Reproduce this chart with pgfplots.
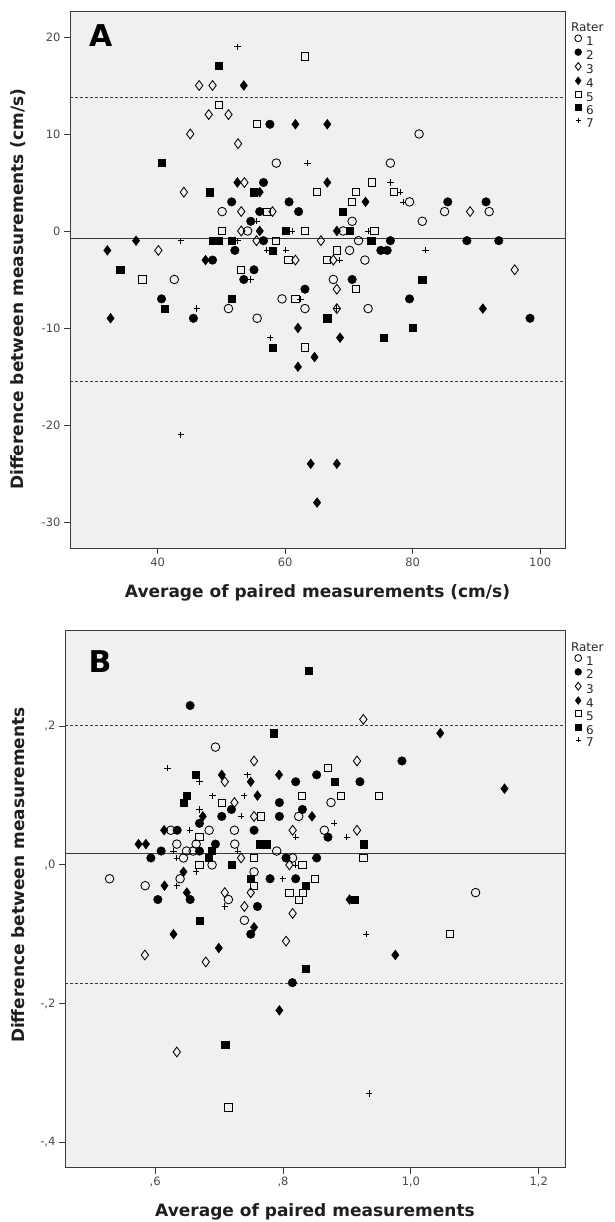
\documentclass[border=0pt]{standalone}
\usepackage{pgfplots}
\pgfplotsset{compat=1.18}
\usepackage{fontspec}
\setmainfont{DejaVu Sans}
\definecolor{bg}{HTML}{F0F0F0}
\definecolor{frame}{HTML}{3A3A3A}
\definecolor{ticklab}{HTML}{4A4A4A}
\pgfplotsset{
  panel/.style={
    scale only axis,
    axis background/.style={fill=bg},
    axis line style={frame, line width=0.9pt},
    xtick pos=bottom, ytick pos=left, tick align=outside,
    major tick length=6pt,
    every tick/.style={frame, line width=0.9pt},
    ticklabel style={font=\fontsize{11.5}{12}\selectfont, text=ticklab},
    label style={font=\bfseries\fontsize{17}{18}\selectfont, text=black!88},
    legend style={at={(1,1)}, anchor=north west, xshift=3pt, yshift=-9pt,
      draw=none, fill=none, font=\fontsize{12}{12}\selectfont, text=black!85,
      row sep=1.1pt, nodes={inner sep=0.8pt, text height=8.5pt, text depth=1.5pt}},
    legend cell align=left,
    legend image code/.code={\path[draw=none, fill=none] (0pt,0pt) -- (14pt,0pt);
      \draw[#1, every mark/.append style={scale=0.8}] plot coordinates {(7pt,3.5pt)};},
  },
  r1/.style={only marks, black, mark=o, mark size=4.3pt, mark options={line width=0.85pt}},
  r2/.style={only marks, black, mark=*, mark size=4.3pt, mark options={fill=black}},
  r3/.style={only marks, black, mark=diamond, mark size=4.9pt, mark options={line width=0.85pt}},
  r4/.style={only marks, black, mark=diamond*, mark size=4.9pt, mark options={fill=black}},
  r5/.style={only marks, black, mark=square, mark size=3.6pt, mark options={line width=0.85pt}},
  r6/.style={only marks, black, mark=square*, mark size=3.6pt, mark options={fill=black}},
  r7/.style={only marks, black, mark=+, mark size=3.1pt, mark options={line width=0.75pt}},
  meanline/.style={forget plot, frame, line width=0.9pt, mark=none},
  limline/.style={forget plot, frame, line width=0.8pt, mark=none, dash pattern=on 3pt off 2pt},
}
\begin{document}
\begin{tikzpicture}
\useasboundingbox (0,0) rectangle (614pt,1222pt);
% ---------------- Panel A ----------------
\begin{axis}[panel,
  at={(70pt,674pt)}, anchor=south west,
  width=495pt, height=537pt,
  xmin=26.24, xmax=103.89, ymin=-32.68, ymax=22.68,
  xtick={40,60,80,100}, xticklabels={40,60,80,100},
  ytick={-30,-20,-10,0,10,20}, yticklabels={-30,-20,-10,0,10,20},
  xlabel={Average of paired measurements (cm/s)},
  ylabel={Difference between measurements (cm/s)},
  xlabel style={at={(axis description cs:0.5,0)}, anchor=center, yshift=-45pt},
  ylabel style={at={(axis description cs:-0.105,0.482)}, anchor=center},
]
\addplot[meanline] coordinates {(26.24,-0.82) (103.89,-0.82)};
\addplot[limline] coordinates {(26.24,13.8) (103.89,13.8)};
\addplot[limline] coordinates {(26.24,-15.5) (103.89,-15.5)};
\addlegendimage{empty legend}\addlegendentry{\hspace{-15pt}Rater}
\addplot[r1] coordinates {(58.6,7) (50.1,2) (54.1,0) (42.6,-5) (59.5,-7) (51.1,-8) (55.6,-9) (63.1,-8) (81.0,10) (76.5,7) (79.5,3) (70.5,1) (85.0,2) (92.0,2) (81.5,1) (69.1,0) (71.5,-1) (70.1,-2) (72.5,-3) (67.55,-5) (73.0,-8)};
\addlegendentry{1}
\addplot[r2] coordinates {(57.6,11) (56.6,5) (51.6,3) (60.6,3) (56.0,2) (62.1,2) (54.6,1) (56.6,-1) (52.1,-2) (48.6,-3) (55.1,-4) (53.5,-5) (63.1,-6) (40.6,-7) (45.6,-9) (79.5,-7) (98.4,-9) (85.5,3) (91.5,3) (76.5,-1) (88.5,-1) (93.5,-1) (75.0,-2) (76.0,-2) (70.5,-5)};
\addlegendentry{2}
\addplot[r3] coordinates {(46.5,15) (48.6,15) (48.0,12) (51.1,12) (45.1,10) (52.6,9) (53.6,5) (44.1,4) (53.1,2) (58.0,2) (53.1,0) (40.1,-2) (55.5,-1) (65.6,-1) (61.6,-3) (67.55,-3) (68.1,-6) (68.1,-8) (89.0,2) (96.0,-4)};
\addlegendentry{3}
\addplot[r4] coordinates {(53.5,15) (61.6,11) (52.5,5) (56.0,4) (56.0,0) (32.1,-2) (36.6,-1) (47.5,-3) (32.6,-9) (62.0,-10) (64.6,-13) (62.0,-14) (64.0,-24) (65.0,-28) (68.1,-24) (91.0,-8) (68.6,-11) (66.6,11) (66.6,5) (72.6,3) (68.1,0)};
\addlegendentry{4}
\addplot[r5] coordinates {(63.1,18) (49.6,13) (55.6,11) (65.0,4) (57.1,2) (50.1,0) (63.1,0) (58.6,-1) (60.5,-3) (53.1,-4) (37.6,-5) (61.6,-7) (63.1,-12) (71.05,-6) (73.6,5) (71.05,4) (77.0,4) (70.5,3) (74.0,0) (68.1,-2) (66.6,-3)};
\addlegendentry{5}
\addplot[r6] coordinates {(49.6,17) (40.6,7) (48.1,4) (55.1,4) (60.1,0) (48.6,-1) (49.6,-1) (51.6,-1) (58.0,-2) (34.1,-4) (51.6,-7) (41.1,-8) (58.0,-12) (81.5,-5) (66.6,-9) (80.0,-10) (75.5,-11) (69.0,2) (70.1,0) (73.5,-1)};
\addlegendentry{6}
\addplot[r7] coordinates {(52.5,19) (63.5,7) (55.5,1) (61.1,0) (43.6,-1) (52.5,-1) (57.1,-2) (60.1,-2) (54.6,-5) (62.4,-7) (46.1,-8) (57.6,-11) (43.6,-21) (68.1,-8) (76.5,5) (78.0,4) (78.5,3) (73.0,0) (82.0,-2) (68.5,-3)};
\addlegendentry{7}
\node[font=\bfseries\fontsize{30}{30}\selectfont, text=black] at (rel axis cs:0.062,0.955) {A};
\end{axis}
% ---------------- Panel B ----------------
\begin{axis}[panel,
  at={(65pt,54.3pt)}, anchor=south west,
  width=500pt, height=537pt,
  xmin=0.459, xmax=1.241, ymin=-0.437, ymax=0.338,
  xtick={0.6,0.8,1.0,1.2}, xticklabels={{,6},{,8},{1,0},{1,2}},
  ytick={-0.4,-0.2,0,0.2}, yticklabels={{-,4},{-,2},{,0},{,2}},
  xlabel={Average of paired measurements},
  ylabel={Difference between measurements},
  xlabel style={at={(axis description cs:0.5,0)}, anchor=center, yshift=-44pt},
  ylabel style={at={(axis description cs:-0.094,0.545)}, anchor=center},
]
\addplot[meanline] coordinates {(0.459,0.0159) (1.241,0.0159)};
\addplot[limline] coordinates {(0.459,0.202) (1.241,0.202)};
\addplot[limline] coordinates {(0.459,-0.171) (1.241,-0.171)};
\addlegendimage{empty legend}\addlegendentry{\hspace{-15pt}Rater}
\addplot[r1] coordinates {(0.6943,0.17) (0.8245,0.07) (0.6245,0.05) (0.6844,0.05) (0.724,0.05) (0.6339,0.03) (0.6641,0.03) (0.7245,0.03) (0.649,0.02) (0.6594,0.02) (0.7901,0.02) (0.6443,0.01) (0.815,0.01) (0.689,0.0) (0.5287,-0.02) (0.7547,-0.01) (0.639,-0.02) (0.5844,-0.03) (0.7146,-0.05) (0.7396,-0.08) (0.875,0.09) (0.8646,0.05) (1.1011,-0.04)};
\addlegendentry{1}
\addplot[r2] coordinates {(0.6547,0.23) (0.8198,0.12) (0.8526,0.13) (0.7193,0.08) (0.7943,0.09) (0.8303,0.08) (0.6693,0.06) (0.7042,0.07) (0.7943,0.07) (0.6344,0.05) (0.7547,0.05) (0.6943,0.03) (0.6094,0.02) (0.6693,0.02) (0.5933,0.01) (0.8047,0.01) (0.8526,0.01) (0.7797,-0.02) (0.8198,-0.02) (0.6042,-0.05) (0.6547,-0.05) (0.76,-0.06) (0.7495,-0.10) (0.8146,-0.17) (0.986,0.15) (0.9203,0.12) (0.8703,0.04)};
\addlegendentry{2}
\addplot[r3] coordinates {(0.7547,0.15) (0.7089,0.12) (0.724,0.09) (0.7547,0.07) (0.8151,0.05) (0.7344,0.01) (0.81,0.0) (0.7089,-0.04) (0.7495,-0.04) (0.7396,-0.06) (0.815,-0.07) (0.8047,-0.11) (0.5839,-0.13) (0.6792,-0.14) (0.6339,-0.27) (0.9256,0.21) (0.9157,0.15) (0.9157,0.05)};
\addlegendentry{3}
\addplot[r4] coordinates {(0.7042,0.13) (0.7495,0.12) (0.7938,0.13) (0.76,0.10) (0.6745,0.07) (0.8453,0.07) (0.6141,0.05) (0.574,0.03) (0.5855,0.03) (0.6443,-0.01) (0.6146,-0.03) (0.6495,-0.04) (0.7547,-0.09) (0.6287,-0.10) (0.6995,-0.12) (0.9756,-0.13) (0.7943,-0.21) (1.0459,0.19) (1.1464,0.11) (0.904,-0.05)};
\addlegendentry{4}
\addplot[r5] coordinates {(0.7042,0.09) (0.765,0.07) (0.8297,0.10) (0.6693,0.04) (0.7547,0.01) (0.6693,0.0) (0.8303,0.0) (0.85,-0.02) (0.7547,-0.03) (0.81,-0.04) (0.8251,-0.05) (1.061,-0.10) (0.7146,-0.35) (0.8703,0.14) (0.8901,0.10) (0.95,0.10) (0.9256,0.01) (0.8308,-0.04)};
\addlegendentry{5}
\addplot[r6] coordinates {(0.8396,0.28) (0.785,0.19) (0.6636,0.13) (0.6495,0.10) (0.6443,0.09) (0.7641,0.03) (0.7745,0.03) (0.689,0.02) (0.6839,0.01) (0.7193,0.0) (0.7495,-0.02) (0.8349,-0.03) (0.6693,-0.08) (0.8349,-0.15) (0.7094,-0.26) (0.8802,0.12) (0.9256,0.03) (0.912,-0.05)};
\addlegendentry{6}
\addplot[r7] coordinates {(0.6193,0.14) (0.6693,0.12) (0.7443,0.13) (0.6896,0.10) (0.7391,0.10) (0.6693,0.08) (0.7344,0.07) (0.6542,0.05) (0.8198,0.04) (0.6287,0.02) (0.7292,0.02) (0.6339,0.01) (0.8198,0.0) (0.6641,-0.01) (0.7995,-0.02) (0.6339,-0.03) (0.7089,-0.06) (0.9297,-0.10) (0.935,-0.33) (0.8802,0.06) (0.8998,0.04)};
\addlegendentry{7}
\node[font=\bfseries\fontsize{30}{30}\selectfont, text=black] at (rel axis cs:0.07,0.942) {B};
\end{axis}
\end{tikzpicture}
\end{document}
